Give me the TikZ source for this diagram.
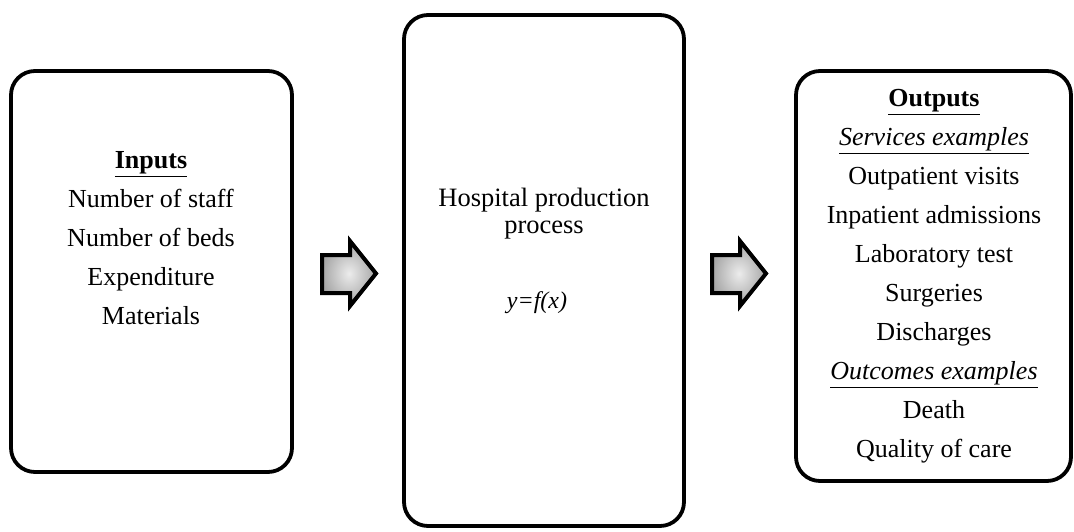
\documentclass[tikz,border=0pt]{standalone}
\usepackage{fontspec}
\setmainfont{Liberation Serif}
\usetikzlibrary{calc}
\begin{document}
\begin{tikzpicture}[x=1pt,y=-1pt,
  box/.style={draw=black, line width=3.8pt, rounded corners=24pt, inner sep=0pt},
  txt/.style={align=center, font=\fontsize{26}{39}\selectfont, inner sep=0pt},
  mid/.style={align=center, font=\fontsize{26.5}{27}\selectfont, inner sep=0pt},
  blockarrow/.style={draw=black, line width=4pt, inner color=gray!15, outer color=gray!70, line join=miter}]
\useasboundingbox (0,0) rectangle (1074,531);
% boxes
\node[box, minimum width=281pt, minimum height=401pt] (in) at (151.5,271.5) {};
\node[box, minimum width=280pt, minimum height=511pt] (proc) at (544,270.5) {};
\node[box, minimum width=275pt, minimum height=410pt] (out) at (933.5,276) {};
% texts
\node[txt] (intext) at (151,238.5) {\textbf{\underline{Inputs}}\\Number of staff\\Number of beds\\Expenditure\\Materials};
\node[mid] (proctext) at (544,213.5) {Hospital production\\process};
\node[mid, font=\fontsize{24}{27}\selectfont] (formula) at (537,303) {\textit{y=f(x)}};
\node[txt] (outtext) at (934,276.5) {\textbf{\underline{Outputs}}\\\underline{\textit{Services examples}}\\Outpatient visits\\Inpatient admissions\\Laboratory test\\Surgeries\\Discharges\\\underline{\textit{Outcomes examples}}\\Death\\Quality of care};
% block arrows
\path[blockarrow] (322,255) -- (350,255) -- (350,241) -- (376,273.5) -- (350,306) -- (350,293) -- (322,293) -- cycle;
\path[blockarrow] (712,255) -- (740,255) -- (740,241) -- (766,273.5) -- (740,306) -- (740,293) -- (712,293) -- cycle;
\end{tikzpicture}
\end{document}
